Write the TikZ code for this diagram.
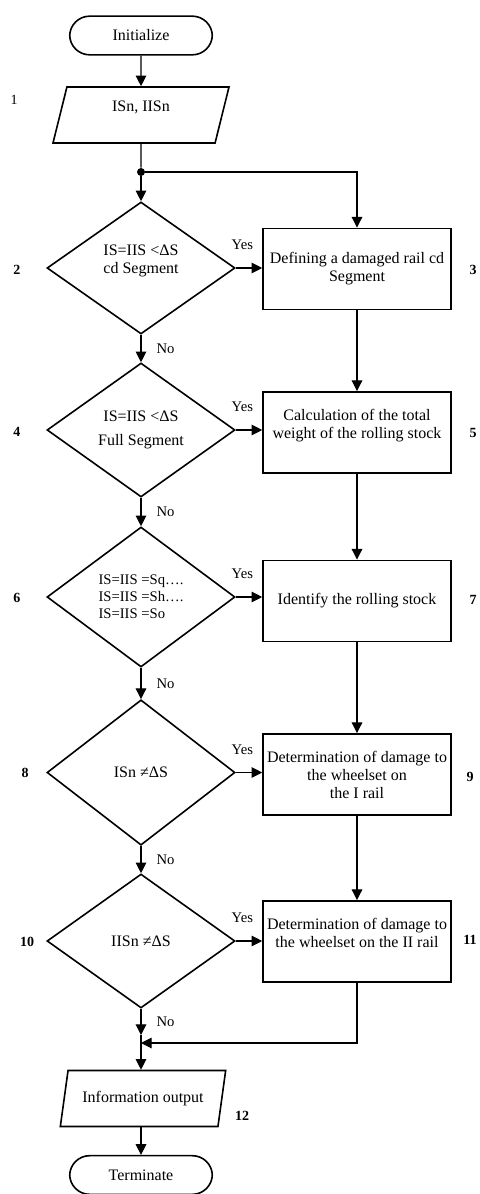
\documentclass[tikz,border=0pt]{standalone}
\usepackage{fontspec}
\setmainfont{Liberation Serif}
\usetikzlibrary{shapes.geometric, arrows.meta}

\tikzset{
  base/.style={draw, line width=1.2pt, font=\fontsize{12}{13.5}\selectfont, align=center, inner sep=1pt},
  term/.style={base, rounded corners=15pt, minimum width=107pt, minimum height=29pt},
  io/.style={base, trapezium, trapezium left angle=66, trapezium right angle=114, trapezium stretches body, minimum height=42pt},
  cond/.style={base, diamond, aspect=1.4, minimum width=141pt},
  proc/.style={base, rectangle, minimum width=141pt, minimum height=61pt},
  flow/.style={line width=0.8pt, -{Triangle[length=8pt, width=8pt]}},
  link/.style={line width=0.8pt},
  dot/.style={circle, fill, inner sep=0pt, minimum size=6pt},
  ans/.style={font=\fontsize{11}{12}\selectfont},
  num/.style={font=\fontsize{10.5}{12}\selectfont\bfseries}
}

\begin{document}
\begin{tikzpicture}[x=0.75pt, y=-0.75pt]
  \useasboundingbox (0,0) rectangle (479,1194);

  % left column
  \node[term] (start) at (141,35.5) {Initialize};
  \node[io, minimum width=132pt] (input) at (141,115) {ISn, IISn\\~};
  \node[dot] (split) at (141,172) {};
  \node[cond, minimum height=99pt] (d2) at (141,268) {IS=IIS <ΔS\\cd Segment\\~};
  \node[cond, minimum height=100.5pt, font=\fontsize{12}{18}\selectfont] (d4) at (141,430) {IS=IIS <ΔS\\Full Segment};
  \node[cond, minimum height=105pt, font=\fontsize{11}{12.75}\selectfont, align=left] (d6) at (141,597) {IS=IIS =Sq….\\IS=IIS =Sh….\\IS=IIS =So};
  \node[cond, minimum height=109pt] (d8) at (141,772.5) {ISn ≠ΔS};
  \node[cond, minimum height=100.5pt] (d10) at (141,941) {IISn ≠ΔS};
  \coordinate (noend) at (141,1035);
  \coordinate (merge) at (141,1043);
  \node[io, minimum width=124pt] (output) at (143,1098.5) {Information output};
  \node[term] (stop) at (141,1175) {Terminate};

  % right column
  \node[proc] (b3) at (357,269) {Defining a damaged rail cd\\Segment};
  \node[proc] (b5) at (357,432.5) {Calculation of the total\\weight of the rolling stock\\~};
  \node[proc] (b7) at (357,601) {Identify the rolling stock};
  \node[proc] (b9) at (357,774.5) {Determination of damage to\\the wheelset on\\the I rail};
  \node[proc] (b11) at (357,941.5) {Determination of damage to\\the wheelset on the II rail\\~};

  % step numbers
  \node[font=\fontsize{10.5}{12}\selectfont] (n1) at (14,100) {1};
  \node[num] (n2) at (17,270) {2};
  \node[num] (n3) at (473,270) {3};
  \node[num] (n4) at (17,432) {4};
  \node[num] (n5) at (473,433) {5};
  \node[num] (n6) at (17,598) {6};
  \node[num] (n7) at (473,600) {7};
  \node[num] (n8) at (25,773) {8};
  \node[num] (n9) at (470,777) {9};
  \node[num] (n10) at (27,942) {10};
  \node[num] (n11) at (470,940) {11};
  \node[num] (n12) at (242,1116) {12};

  % connectors
  \draw[flow] (start) -- (input);
  \draw[link] (input) -- (split);
  \draw[flow] (split) -- (d2);
  \draw[flow] (split) -| (b3.north);
  \draw[flow] (d2.east) -- node[ans, pos=0.25, above=10pt] {Yes} (d2.east -| b3.west);
  \draw[flow] (d4.east) -- node[ans, pos=0.25, above=10pt] {Yes} (d4.east -| b5.west);
  \draw[flow] (d6.east) -- node[ans, pos=0.25, above=10pt] {Yes} (d6.east -| b7.west);
  \draw[flow] (d8.east) -- node[ans, pos=0.25, above=10pt] {Yes} (d8.east -| b9.west);
  \draw[flow] (d10.east) -- node[ans, pos=0.25, above=10pt] {Yes} (d10.east -| b11.west);
  \draw[flow] (d2) -- node[ans, right=8pt] {No} (d4);
  \draw[flow] (d4) -- node[ans, right=8pt] {No} (d6);
  \draw[flow] (d6) -- node[ans, right=8pt] {No} (d8);
  \draw[flow] (d8) -- node[ans, right=8pt] {No} (d10);
  \draw[flow] (d10) -- node[ans, right=8pt] {No} (noend);
  \draw[flow] (noend) -- (noend |- output.north);
  \draw[flow] (b3) -- (b5);
  \draw[flow] (b5) -- (b7);
  \draw[flow] (b7) -- (b9);
  \draw[flow] (b9) -- (b11);
  \draw[flow] (b11.south) |- (merge);
  \draw[flow] (output.south -| stop) -- (stop);
\end{tikzpicture}
\end{document}
